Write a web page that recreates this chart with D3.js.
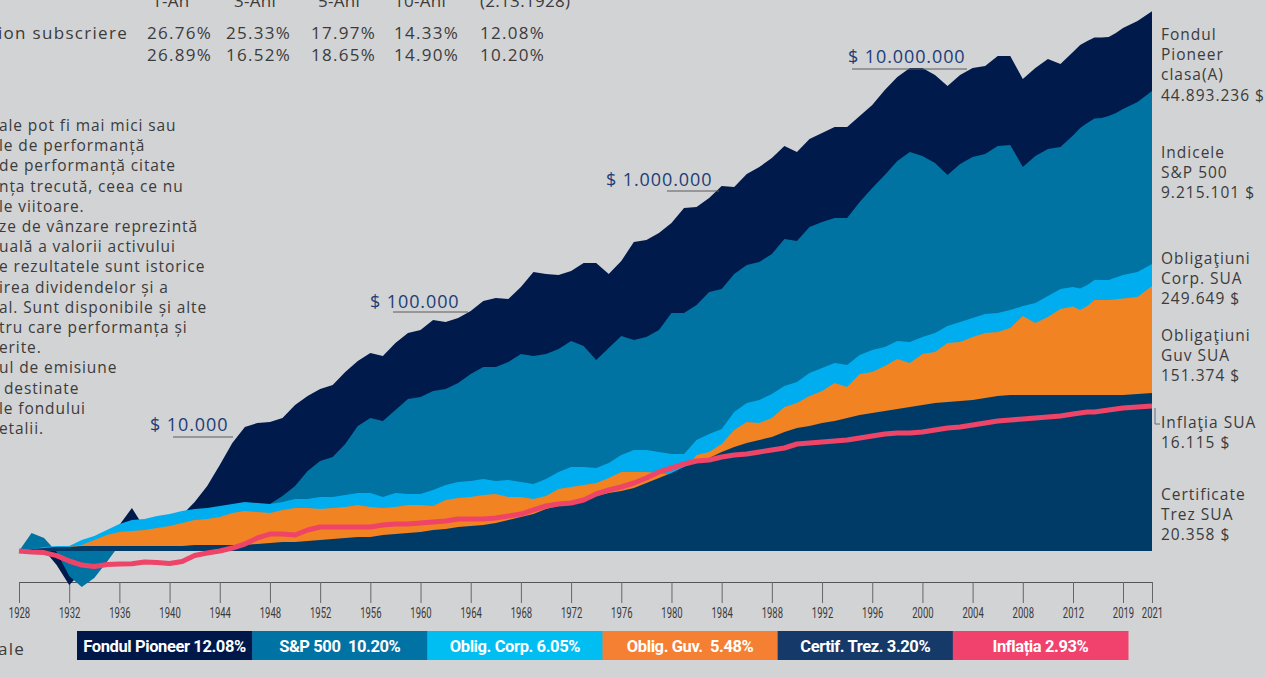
<!DOCTYPE html>
<html>
<head>
<meta charset="utf-8">
<script src="https://cdn.jsdelivr.net/npm/d3@7"></script>
<style>
  body { margin: 0; background: #d1d2d4; }
  svg { display: block; }
  .txt { font-family: "Open Sans", "Noto Sans", sans-serif; fill: #3b3b3b; }
</style>
</head>
<body>
<svg id="chart"></svg>
<script>
// ---- data (growth of $1.000 invested 2.13.1928) ----
const years = d3.range(1928, 2022);

const pioneer = [
  1000, 1083, 1020, 757, 509, 659, 924, 1244, 1676, 2348,
  1578, 1710, 1779, 2043, 2645, 3634, 5512, 8532, 11720, 12690,
  12950, 14020, 18140, 21690, 24920, 26980, 34920, 43440, 50920, 47990,
  62100, 75740, 80380, 98000, 94220, 102000, 117200, 143000, 151700, 148700,
  188700, 254200, 244300, 239500, 259300, 304000, 304000, 244300, 316200, 461100,
  479900, 551200, 672400, 905500, 923600, 1104000, 1402000, 1374000, 1779000, 2043000,
  2443000, 3101000, 2752000, 3562000, 4013000, 4521000, 4521000, 5623000, 6997000, 9422000,
  12200000, 14580000, 14580000, 12690000, 10200000, 12690000, 14580000, 15170000, 18500000, 18500000,
  11720000, 14580000, 17440000, 15780000, 20030000, 23020000, 24920000, 26720000, 26720000, 26980000,
  29210000, 32250000, 37070000, 44893236
];

const sp500 = [
  1000, 1430, 1295, 980, 609, 489, 585, 804, 1126, 1517,
  1020, 1244, 1244, 1126, 1041, 1244, 1547, 1850, 2395, 2348,
  2542, 2980, 3634, 4894, 5968, 6462, 8364, 11950, 14020, 13210,
  16430, 20430, 21260, 23950, 24920, 28070, 33560, 38570, 38570, 42590,
  49920, 47990, 49920, 55120, 64620, 58510, 44320, 56230, 71370, 65920,
  69970, 80380, 112600, 112600, 132100, 171000, 181400, 244300, 292100, 310100,
  363400, 489400, 470400, 621000, 685900, 742500, 742500, 1020000, 1347000, 1744000,
  2302000, 2752000, 2542000, 2212000, 1744000, 2169000, 2492000, 2645000, 3101000, 3162000,
  2043000, 2542000, 2921000, 3040000, 3820000, 4432000, 4894000, 5350000, 5404000, 5623000,
  5969000, 6462000, 7425000, 9215101
];

const corpBonds = [
  1000, 1041, 1083, 1104, 1104, 1244, 1347, 1517, 1710, 1850,
  1888, 2003, 2084, 2212, 2302, 2348, 2443, 2542, 2645, 2593,
  2542, 2645, 2807, 2807, 2921, 2921, 3040, 3162, 3162, 2921,
  3162, 3101, 3101, 3356, 3707, 3935, 4013, 4176, 4013, 4093,
  3935, 3781, 4176, 4799, 5299, 5299, 5194, 5736, 6724, 7425,
  7425, 7137, 6859, 6859, 9055, 10200, 11260, 15780, 18880, 20030,
  22560, 26450, 28640, 34230, 37810, 41760, 40130, 48940, 54040, 57360,
  64620, 63340, 69970, 75740, 87030, 94220, 102000, 110400, 112600, 119500,
  129500, 137400, 157800, 181400, 188700, 183000, 196400, 216900, 216900, 216900,
  228000, 239500, 254200, 298000
];

const govBonds = [
  1000, 1000, 1020, 1061, 1083, 1126, 1244, 1374, 1458, 1487,
  1517, 1578, 1643, 1744, 1850, 1888, 1964, 2126, 2212, 2169,
  2126, 2256, 2348, 2348, 2302, 2348, 2395, 2492, 2395, 2348,
  2395, 2492, 2492, 2443, 2752, 2864, 2921, 3040, 3101, 2921,
  2921, 2807, 2980, 3423, 3562, 3707, 3857, 4259, 4799, 4799,
  4799, 4704, 4521, 4992, 6724, 7137, 8364, 11040, 12950, 12690,
  14020, 17440, 18880, 21690, 23950, 28070, 25930, 33560, 34920, 39350,
  45210, 41760, 49920, 51940, 62100, 63340, 69970, 75740, 77260, 83640,
  106100, 92360, 104100, 122000, 128200, 119500, 129500, 145800, 145800, 145800,
  148000, 150200, 154700, 192500
];

const tBills = [
  1000, 1041, 1061, 1083, 1083, 1104, 1104, 1104, 1104, 1104,
  1104, 1104, 1104, 1104, 1126, 1126, 1126, 1126, 1126, 1149,
  1172, 1195, 1195, 1220, 1244, 1269, 1295, 1320, 1320, 1374,
  1401, 1429, 1458, 1517, 1547, 1610, 1643, 1676, 1744, 1850,
  1964, 2084, 2302, 2443, 2492, 2752, 2980, 3162, 3290, 3492,
  3857, 4259, 4704, 5299, 5851, 6334, 7137, 7881, 8532, 9055,
  9611, 10610, 11490, 11950, 12690, 13200, 14010, 14870, 15470, 16100,
  16760, 17440, 18140, 18880, 19250, 19640, 20030, 20840, 21690, 22120,
  22120, 22120, 22120, 22120, 22120, 22120, 22120, 22120, 22120, 22120,
  22120, 22120, 22570, 23020
];

const inflation = [
  1000, 980, 969, 913, 820, 757, 734, 765, 772, 776,
  804, 795, 779, 812, 914, 961, 1000, 1061, 1149, 1295,
  1401, 1401, 1374, 1517, 1610, 1610, 1610, 1610, 1610, 1676,
  1709, 1709, 1744, 1778, 1814, 1888, 1888, 1888, 1925, 2003,
  2084, 2257, 2443, 2542, 2593, 2752, 3100, 3356, 3562, 3857,
  4259, 4799, 5194, 5623, 5969, 6088, 6462, 6724, 6859, 7137,
  7425, 7726, 8364, 8532, 8703, 8877, 9055, 9422, 9800, 10200,
  10410, 10410, 10610, 11040, 11490, 11720, 12200, 12690, 13200, 13470,
  13740, 14010, 14290, 14580, 15170, 15470, 15780, 15780, 16100, 16430,
  16760, 17090, 17440, 17780
];

const axisTicks = [1928, 1932, 1936, 1940, 1944, 1948, 1952, 1956, 1960, 1964, 1968, 1972,
  1976, 1980, 1984, 1988, 1992, 1996, 2000, 2004, 2008, 2012, 2019, 2021];

const legendLabels = ["Fondul Pioneer 12.08%", "S&P 500  10.20%", "Oblig. Corp. 6.05%",
  "Oblig. Guv.  5.48%", "Certif. Trez. 3.20%", "Inflația 2.93%"];

const endLabels = [
  ["Fondul", "Pioneer", "clasa(A)", "44.893.236 $"],
  ["Indicele", "S&P 500", "9.215.101 $"],
  ["Obligaţiuni", "Corp. SUA", "249.649 $"],
  ["Obligaţiuni", "Guv SUA", "151.374 $"],
  ["Inflaţia SUA", "16.115 $"],
  ["Certificate", "Trez SUA", "20.358 $"]
];

const periodHeaders = ["1-An", "3-Ani", "5-Ani", "10-Ani", "(2.13.1928)"];
const fundReturns = ["26.76%", "25.33%", "17.97%", "14.33%", "12.08%"];
const indexReturns = ["26.89%", "16.52%", "18.65%", "14.90%", "10.20%"];

const milestoneValues = [10000, 100000, 1000000, 10000000];
const milestoneLabels = ["$ 10.000", "$ 100.000", "$ 1.000.000", "$ 10.000.000"];

const noteLines = [
  "ale pot fi mai mici sau", "le de performanță", "de performanță citate",
  "nța trecută, ceea ce nu", "le viitoare.", "ze de vânzare reprezintă",
  "uală a valorii activului", "e rezultatele sunt istorice", "irea dividendelor și a",
  "al. Sunt disponibile și alte", "tru care performanța și", "erite.",
  "ul de emisiune", " destinate", "le fondului", "etalii."
];


class GrowthChart {

  constructor(config) {
    this.config = {
      parent: config.parent,
      width: config.width || 1265,
      height: config.height || 677,
      baseline: 551,
      decade: 116,
      axisY: 582
    };
    this.init();
  }

  init() {
    let self = this;

    self.svg = d3.select(self.config.parent)
      .attr('width', self.config.width)
      .attr('height', self.config.height);

    self.svg.append('rect')
      .attr('width', self.config.width)
      .attr('height', self.config.height)
      .attr('fill', '#d2d3d5');

    // last labels on the original axis are squeezed together
    self.xscale = d3.scaleLinear()
      .domain([1928, 2012, 2019, 2021])
      .range([19, 1073, 1123, 1152]);

    self.yscale = d3.scaleLog()
      .domain([1000, 10000000])
      .range([self.config.baseline, self.config.baseline - 4 * self.config.decade]);

    self.xaxis = d3.axisBottom(self.xscale)
      .tickValues(axisTicks)
      .tickFormat(d3.format('d'))
      .tickSize(21)
      .tickSizeOuter(0)
      .tickPadding(5);

    self.series = [
      { values: pioneer, color: '#001a4c' },
      { values: sp500, color: '#0073a2' },
      { values: corpBonds, color: '#00aeef' },
      { values: govBonds, color: '#f28322' },
      { values: tBills, color: '#003b68' }
    ];
    self.series.forEach(s => {
      s.points = years.map((y, i) => ({ year: y, value: s.values[i] }));
    });
    self.inflationPoints = years.map((y, i) => ({ year: y, value: inflation[i] }));
  }

  render() {
    let self = this;

    // axis first, the 1933 dip overlaps it
    let axis_group = self.svg.append('g')
      .attr('transform', `translate(0, ${self.config.axisY})`)
      .call(self.xaxis);
    axis_group.select('.domain').attr('stroke', '#555').attr('stroke-width', 1.2);
    axis_group.selectAll('.tick line').attr('stroke', '#666');
    axis_group.selectAll('.tick text')
      .attr('fill', '#3a3a3a')
      .attr('transform', 'scale(0.68,1)')
      .style('font-family', 'Roboto, sans-serif')
      .style('font-size', '14px');

    const area = d3.area()
      .x(d => self.xscale(d.year))
      .y0(self.yscale(1000))
      .y1(d => self.yscale(d.value));

    self.svg.append('g')
      .selectAll('path')
      .data(self.series)
      .join('path')
      .attr('d', d => area(d.points))
      .attr('fill', d => d.color);

    const line = d3.line()
      .x(d => self.xscale(d.year))
      .y(d => self.yscale(d.value));

    self.svg.append('path')
      .attr('d', line(self.inflationPoints))
      .attr('fill', 'none')
      .attr('stroke', '#ee4468')
      .attr('stroke-width', 5)
      .attr('stroke-linejoin', 'round');

    // leader from the inflation line to its label
    const endX = self.xscale(2021), endY = self.yscale(inflation[inflation.length - 1]);
    self.svg.append('path')
      .attr('d', `M${endX + 3},${endY + 2}V${endY + 18}H${endX + 8}`)
      .attr('fill', 'none')
      .attr('stroke', '#5b6f86')
      .attr('stroke-width', 1);

    // milestone labels
    const milestoneLayout = [
      { x: 150, y: 431, x1: 173, x2: 233, ly: 437 },
      { x: 370, y: 308, x1: 393, x2: 468, ly: 312 },
      { x: 606, y: 186, x1: 667, x2: 719, ly: 191 },
      { x: 848, y: 63, x1: 852, x2: 967, ly: 69 }
    ];
    milestoneValues.forEach((v, i) => {
      const m = milestoneLayout[i];
      self.svg.append('line')
        .attr('x1', m.x1).attr('x2', m.x2)
        .attr('y1', m.ly).attr('y2', m.ly)
        .attr('stroke', '#5a5a5a').attr('stroke-width', 1);
      self.svg.append('text')
        .attr('class', 'txt')
        .attr('x', m.x).attr('y', m.y)
        .style('fill', '#1d3d78')
        .style('font-size', '18px')
        .style('letter-spacing', '0.9px')
        .text(milestoneLabels[i]);
    });

    // labels at the right end
    const endTops = [40, 158, 264, 341, 428, 500];
    endLabels.forEach((lines, i) => {
      let t = self.svg.append('text')
        .attr('class', 'txt')
        .attr('x', 1161)
        .attr('y', endTops[i])
        .style('font-size', '15.5px')
        .style('letter-spacing', '1px');
      lines.forEach((s, j) => {
        t.append('tspan').attr('x', 1161).attr('dy', j == 0 ? 0 : 20.2).text(s);
      });
    });

    // legend bar
    const legendColors = ['#00174a', '#0072a3', '#00bef2', '#f57f32', '#153a69', '#f0426c'];
    const lx = 77, lw = (1128 - 77) / 6;
    let legend = self.svg.append('g');
    legend.selectAll('rect')
      .data(legendLabels)
      .join('rect')
      .attr('x', (d, i) => lx + i * lw)
      .attr('y', 631)
      .attr('width', lw + 0.5)
      .attr('height', 29)
      .attr('fill', (d, i) => legendColors[i]);
    legend.selectAll('text')
      .data(legendLabels)
      .join('text')
      .attr('x', (d, i) => lx + i * lw + lw / 2)
      .attr('y', 651.5)
      .attr('text-anchor', 'middle')
      .attr('fill', '#fff')
      .style('font-family', 'Roboto, sans-serif')
      .style('font-weight', 'bold')
      .style('font-size', '16.5px')
      .style('letter-spacing', '-0.4px')
      .style('white-space', 'pre')
      .text(d => d);

    self.svg.append('text')
      .attr('class', 'txt')
      .attr('x', -2).attr('y', 655)
      .style('font-size', '17px')
      .style('letter-spacing', '1.2px')
      .text('ale');

    // returns table (cropped at the top)
    const headerX = [152, 234, 318, 394, 480];
    const valueX = [147, 226, 311, 394, 480];
    const tableText = (x, y, s, ls) => self.svg.append('text').attr('class', 'txt')
      .attr('x', x).attr('y', y)
      .style('font-size', '17px')
      .style('letter-spacing', ls)
      .text(s);
    periodHeaders.forEach((h, i) => tableText(headerX[i], 7, h, '0.3px'));
    tableText(-2, 39, 'ion subscriere', '1.3px');
    fundReturns.forEach((v, i) => tableText(valueX[i], 39, v, '1.3px'));
    indexReturns.forEach((v, i) => tableText(valueX[i], 61, v, '1.3px'));

    // disclaimer text (cropped at the left)
    let note = self.svg.append('text')
      .attr('class', 'txt')
      .attr('y', 131)
      .style('font-size', '15.5px')
      .style('letter-spacing', '0.9px')
      .style('white-space', 'pre');
    noteLines.forEach((s, j) => {
      note.append('tspan').attr('x', -1).attr('dy', j == 0 ? 0 : 20.2).text(s);
    });
  }
}

let chart = new GrowthChart({ parent: '#chart', width: 1265, height: 677 });
chart.render();
</script>
</body>
</html>
